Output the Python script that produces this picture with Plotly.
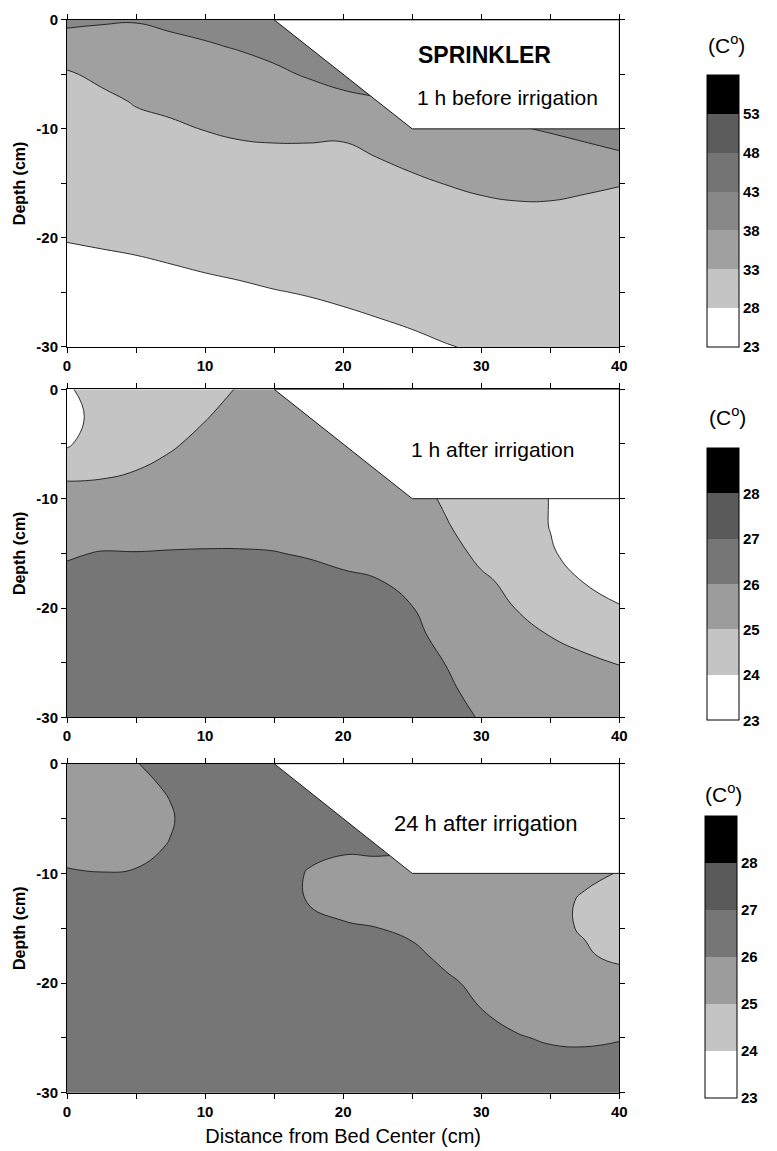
import plotly.graph_objects as go

# ---------------- data ----------------
x_cm = [0, 2.5, 5, 7.5, 10, 12.5, 15, 17.5, 20, 22.5, 25, 27.5, 30, 32.5, 35, 37.5, 40]
depth_cm = [0, -2.5, -5, -7.5, -10, -12.5, -15, -17.5, -20, -22.5, -25, -27.5, -30]

# bed surface profile (furrow shoulder)
bed_x = [0, 15, 25, 40]
bed_y = [0, 0, -10, -10]

# soil temperature (deg C), one list per x column, from depth 0 down to -30
temp_before_cols = [
    [39.0, 35.73, 32.48, 31.75, 31.02, 30.30, 29.57, 28.84, 28.12, 27.39, 26.66, 25.93, 25.2],
    [38.39, 36.22, 34.04, 31.87, 31.15, 30.44, 29.72, 29.0, 28.29, 27.57, 26.85, 26.14, 25.42],
    [38.19, 36.57, 34.95, 33.33, 31.68, 30.89, 30.09, 29.30, 28.51, 27.71, 26.92, 26.13, 25.33],
    [38.70, 37.11, 35.53, 33.95, 32.37, 31.49, 30.61, 29.72, 28.84, 27.96, 27.08, 26.2, 25.32],
    [39.14, 37.64, 36.13, 34.63, 33.12, 31.62, 30.77, 29.93, 29.08, 28.24, 27.39, 26.55, 25.7],
    [39.75, 38.21, 36.68, 35.15, 33.62, 32.07, 31.18, 30.29, 29.39, 28.5, 27.61, 26.72, 25.82],
    [40.74, 39.03, 37.32, 35.60, 33.89, 32.18, 31.32, 30.47, 29.61, 28.75, 27.9, 27.04, 26.18],
    [41.0, 40.46, 38.34, 36.22, 34.10, 31.99, 31.21, 30.44, 29.67, 28.9, 28.12, 27.35, 26.58],
    [41.0, 40.5, 39.53, 36.89, 34.26, 31.64, 30.98, 30.32, 29.66, 29.0, 28.34, 27.68, 27.02],
    [41.0, 40.5, 39.88, 37.64, 35.41, 33.1, 31.85, 31.07, 30.28, 29.5, 28.72, 27.94, 27.16],
    [41.0, 41.0, 40.3, 38.42, 36.33, 34.25, 32.17, 31.39, 30.61, 29.84, 29.06, 28.28, 27.5],
    [41.0, 41.0, 40.5, 38.83, 36.94, 35.04, 33.1, 31.85, 31.06, 30.27, 29.48, 28.69, 27.9],
    [41.0, 41.0, 40.7, 39.14, 37.36, 35.57, 33.79, 31.99, 31.24, 30.49, 29.74, 28.99, 28.24],
    [41.0, 41.0, 40.9, 39.50, 37.71, 35.93, 34.14, 32.36, 31.6, 30.84, 30.08, 29.31, 28.55],
    [41.0, 41.0, 41.0, 40.34, 38.32, 36.31, 34.29, 32.27, 31.56, 30.85, 30.14, 29.42, 28.71],
    [41.5, 41.5, 41.5, 41.5, 39.25, 36.65, 33.7, 31.95, 31.31, 30.67, 30.04, 29.4, 28.76],
    [41.5, 41.5, 41.5, 41.5, 41.03, 37.24, 33.2, 31.53, 30.96, 30.39, 29.82, 29.25, 28.68],
]

temp_1h_after_cols = [
    [23.85, 23.55, 23.88, 24.70, 25.53, 25.76, 25.96, 26.10, 26.22, 26.32, 26.40, 26.47, 26.52],
    [24.6, 24.45, 24.6, 24.8, 25.51, 25.78, 26.02, 26.15, 26.27, 26.37, 26.45, 26.5, 26.55],
    [24.65, 24.7, 24.78, 25.01, 25.35, 25.7, 26.02, 26.18, 26.3, 26.4, 26.47, 26.52, 26.56],
    [24.7, 24.8, 24.9, 25.24, 25.45, 25.72, 26.04, 26.2, 26.32, 26.42, 26.5, 26.55, 26.58],
    [24.75, 24.95, 25.23, 25.4, 25.55, 25.75, 26.05, 26.22, 26.35, 26.45, 26.52, 26.57, 26.6],
    [25.05, 25.31, 25.45, 25.55, 25.65, 25.8, 26.04, 26.22, 26.35, 26.45, 26.52, 26.57, 26.6],
    [25.2, 25.35, 25.45, 25.55, 25.65, 25.78, 26.02, 26.2, 26.32, 26.42, 26.5, 26.55, 26.58],
    [25.2, 25.3, 25.4, 25.5, 25.6, 25.72, 25.95, 26.2, 26.3, 26.4, 26.47, 26.52, 26.55],
    [25.2, 25.3, 25.4, 25.5, 25.58, 25.68, 25.85, 26.1, 26.22, 26.32, 26.4, 26.45, 26.5],
    [25.1, 25.2, 25.3, 25.4, 25.5, 25.62, 25.8, 26.02, 26.15, 26.25, 26.33, 26.4, 26.45],
    [24.6, 24.75, 24.9, 25.1, 25.3, 25.45, 25.6, 25.75, 26.02, 26.15, 26.25, 26.32, 26.38],
    [24.4, 24.5, 24.6, 24.75, 24.88, 25.05, 25.3, 25.45, 25.6, 25.8, 25.98, 26.1, 26.2],
    [24.2, 24.3, 24.35, 24.42, 24.5, 24.63, 24.82, 25.12, 25.3, 25.48, 25.63, 25.8, 25.96],
    [24.3, 24.35, 24.4, 24.45, 24.5, 24.55, 24.65, 24.8, 24.99, 25.2, 25.38, 25.55, 25.7],
    [23.9, 23.9, 23.9, 23.95, 23.97, 23.97, 24.1, 24.3, 24.55, 24.99, 25.2, 25.4, 25.55],
    [23.5, 23.5, 23.5, 23.5, 23.5, 23.45, 23.6, 23.97, 24.2, 24.7, 25.17, 25.35, 25.5],
    [23.4, 23.4, 23.4, 23.4, 23.4, 23.3, 23.4, 23.7, 24.05, 24.45, 24.98, 25.2, 25.38],
]

temp_24h_after_cols = [
    [25.5, 25.45, 25.45, 25.6, 26.1, 26.35, 26.45, 26.5, 26.5, 26.5, 26.5, 26.5, 26.5],
    [25.55, 25.5, 25.5, 25.62, 26.02, 26.3, 26.45, 26.5, 26.5, 26.5, 26.5, 26.5, 26.5],
    [25.97, 25.7, 25.6, 25.7, 26.07, 26.3, 26.45, 26.5, 26.5, 26.5, 26.5, 26.5, 26.5],
    [26.3, 26.075, 25.9, 26.057, 26.35, 26.45, 26.5, 26.5, 26.5, 26.5, 26.5, 26.5, 26.5],
    [26.5, 26.5, 26.7, 26.5, 26.5, 26.5, 26.5, 26.5, 26.5, 26.5, 26.5, 26.5, 26.5],
    [26.5, 26.5, 26.5, 26.5, 26.5, 26.5, 26.5, 26.5, 26.5, 26.5, 26.5, 26.5, 26.5],
    [26.5, 26.5, 26.5, 26.5, 26.5, 26.5, 26.5, 26.5, 26.5, 26.5, 26.5, 26.5, 26.5],
    [26.5, 26.5, 26.45, 26.3, 25.93, 25.95, 26.3, 26.45, 26.5, 26.5, 26.5, 26.5, 26.5],
    [26.5, 26.45, 26.4, 26.2, 25.6, 25.6, 26.15, 26.4, 26.5, 26.5, 26.5, 26.5, 26.5],
    [26.45, 26.4, 26.3, 26.15, 25.75, 25.6, 26.01, 26.3, 26.45, 26.5, 26.5, 26.5, 26.5],
    [26.4, 26.35, 26.25, 26.1, 25.6, 25.5, 25.75, 26.27, 26.45, 26.5, 26.5, 26.5, 26.5],
    [26.2, 26.0, 25.8, 25.6, 25.5, 25.4, 25.45, 25.7, 26.2, 26.4, 26.5, 26.5, 26.5],
    [25.6, 25.5, 25.45, 25.4, 25.4, 25.3, 25.3, 25.45, 25.7, 26.02, 26.3, 26.45, 26.5],
    [25.4, 25.35, 25.3, 25.3, 25.3, 25.2, 25.2, 25.3, 25.45, 25.7, 26.075, 26.35, 26.5],
    [25.3, 25.3, 25.3, 25.3, 25.25, 25.15, 25.15, 25.25, 25.4, 25.6, 25.9, 26.32, 26.5],
    [25.2, 25.2, 25.2, 25.2, 25.1, 24.94, 24.94, 25.08, 25.35, 25.6, 25.9, 26.21, 26.45],
    [25.2, 25.2, 25.2, 25.2, 24.98, 24.7, 24.65, 24.85, 25.32, 25.6, 25.97, 26.2, 26.35],
]

panel_labels = ["1 h before irrigation", "1 h after irrigation", "24 h after irrigation"]
x_major = [0, 10, 20, 30, 40]
x_minor = [5, 15, 25, 35]
y_major = [0, -10, -20, -30]
y_minor = [-5, -15, -25]
cb_ticks_before = [23, 28, 33, 38, 43, 48, 53]
cb_range_before = [23, 58]
cb_ticks_after = [23, 24, 25, 26, 27, 28]
cb_range_after = [23, 29]

# ---------------- styling ----------------
W, H = 777, 1151
grays7 = ["#ffffff", "#c4c4c4", "#a0a0a0", "#888888", "#747474", "#5c5c5c", "#000000"]
grays6 = ["#ffffff", "#c4c4c4", "#9c9c9c", "#767676", "#5a5a5a", "#000000"]


def smooth_scale(cols):
    n = len(cols) - 1
    return [[i / n, c] for i, c in enumerate(cols)]


def step_scale(cols):
    n = len(cols)
    out = []
    for i, c in enumerate(cols):
        out.append([i / n, c])
        out.append([(i + 1) / n, c])
    return out


def to_rows(cols):
    rows = [list(r) for r in zip(*cols)]
    return rows[::-1]


depth_up = depth_cm[::-1]

# pixel geometry of the three panels (top, bottom) and colorbars
px_left, px_right = 64, 625
panels_px = [(11, 343), (386, 719), (766, 1100)]
cbars_px = [(714, 67, 272), (714, 446, 272), (712, 819, 282)]

fig = go.Figure()

datasets = [
    (temp_before_cols, 28, 53, 5, grays7, cb_ticks_before, cb_range_before),
    (temp_1h_after_cols, 24, 28, 1, grays6, cb_ticks_after, cb_range_after),
    (temp_24h_after_cols, 24, 28, 1, grays6, cb_ticks_after, cb_range_after),
]

font_main = "Liberation Sans, Arial, sans-serif"

for i, (cols, c0, c1, cs, grays, cbt, cbr) in enumerate(datasets):
    xa = "x" if i == 0 else f"x{i+1}"
    ya = "y" if i == 0 else f"y{i+1}"
    cbx, cby, cblen = cbars_px[i]
    fig.add_trace(go.Contour(
        x=x_cm, y=depth_up, z=to_rows(cols),
        autocontour=False,
        contours=dict(start=c0, end=c1, size=cs, coloring="fill", showlines=True),
        line=dict(color="#1a1a1a", width=0.9, smoothing=1.3),
        colorscale=smooth_scale(grays),
        showscale=False,
        xaxis=xa, yaxis=ya,
        hoverinfo="skip",
    ))
    # white area above the bed surface
    fig.add_trace(go.Scatter(
        x=bed_x[1:] + [bed_x[-1], bed_x[1]],
        y=bed_y[1:] + [bed_y[0], bed_y[1]],
        fill="toself", fillcolor="white", mode="lines",
        line=dict(color="#1a1a1a", width=1),
        xaxis=xa, yaxis=ya, showlegend=False, hoverinfo="skip",
    ))
    # colour key (legend bar) for the temperature classes
    fig.add_trace(go.Scatter(
        x=[None] * len(cbt), y=[None] * len(cbt), mode="markers",
        xaxis=xa, yaxis=ya, showlegend=False, hoverinfo="skip",
        marker=dict(
            color=cbt, cmin=cbr[0], cmax=cbr[1], colorscale=step_scale(grays),
            showscale=True,
            colorbar=dict(
                x=cbx / W, xanchor="left", xpad=0,
                y=1 - cby / H, yanchor="top", ypad=0,
                len=cblen, lenmode="pixels",
                thickness=32, thicknessmode="pixels",
                outlinecolor="black", outlinewidth=1,
                tickmode="array", tickvals=cbt, ticktext=[str(v) for v in cbt],
                ticks="", ticklabelposition="outside",
                tickfont=dict(family=font_main, size=15, color="black", weight="bold"),
            ),
        ),
    ))

layout_axes = {}
for i, (top, bot) in enumerate(panels_px):
    xk = "xaxis" if i == 0 else f"xaxis{i+1}"
    yk = "yaxis" if i == 0 else f"yaxis{i+1}"
    ya = "y" if i == 0 else f"y{i+1}"
    xa = "x" if i == 0 else f"x{i+1}"
    layout_axes[xk] = dict(
        domain=[px_left / W, px_right / W], anchor=ya, range=[0, 40],
        showline=True, linecolor="black", linewidth=1, mirror="ticks",
        ticks="outside", ticklen=5, tickcolor="black",
        tickmode="array", tickvals=x_major, ticktext=[str(v) for v in x_major],
        minor=dict(tickmode="array", tickvals=x_minor, ticks="outside", ticklen=5, tickcolor="black"),
        tickfont=dict(family=font_main, size=15, color="black", weight="bold"),
        showgrid=False, zeroline=False, fixedrange=True,
    )
    layout_axes[yk] = dict(
        domain=[1 - bot / H, 1 - top / H], anchor=xa, range=[-30, 0],
        showline=True, linecolor="black", linewidth=1, mirror="ticks",
        ticks="outside", ticklen=5, tickcolor="black",
        tickmode="array", tickvals=y_major, ticktext=[f"{v:d}" for v in y_major],
        minor=dict(tickmode="array", tickvals=y_minor, ticks="outside", ticklen=5, tickcolor="black"),
        tickfont=dict(family=font_main, size=15, color="black", weight="bold"),
        title=dict(text="Depth (cm)", font=dict(family=font_main, size=16, color="black", weight="bold"), standoff=6),
        showgrid=False, zeroline=False, fixedrange=True,
    )

layout_axes["xaxis3"]["title"] = dict(
    text="Distance from Bed Center (cm)",
    font=dict(family=font_main, size=20, color="black"), standoff=10,
)

annotations = [
    dict(text="<b>SPRINKLER</b>", x=488 / W, y=1 - 47 / H, font=dict(size=23)),
    dict(text=panel_labels[0], x=511 / W, y=1 - 90 / H, font=dict(size=21)),
    dict(text=panel_labels[1], x=496 / W, y=1 - 447 / H, font=dict(size=21)),
    dict(text=panel_labels[2], x=489 / W, y=1 - 827 / H,
         font=dict(size=22, family="Liberation Sans Narrow, Arial Narrow, Liberation Sans")),
    dict(text="(C<sup>o</sup>)", x=734 / W, y=1 - 36 / H, font=dict(size=21)),
    dict(text="(C<sup>o</sup>)", x=735 / W, y=1 - 413 / H, font=dict(size=21)),
    dict(text="(C<sup>o</sup>)", x=731 / W, y=1 - 796 / H, font=dict(size=21)),
]
for a in annotations:
    a.update(xref="paper", yref="paper", xanchor="center", yanchor="middle", showarrow=False)
    f = a["font"]
    f.setdefault("family", font_main)
    f.setdefault("color", "black")

fig.update_layout(
    width=W, height=H, autosize=False,
    margin=dict(l=0, r=0, t=0, b=0),
    paper_bgcolor="white", plot_bgcolor="white",
    showlegend=False,
    annotations=annotations,
    font=dict(family=font_main, color="black"),
    **layout_axes,
)

fig.write_html("out.html")
